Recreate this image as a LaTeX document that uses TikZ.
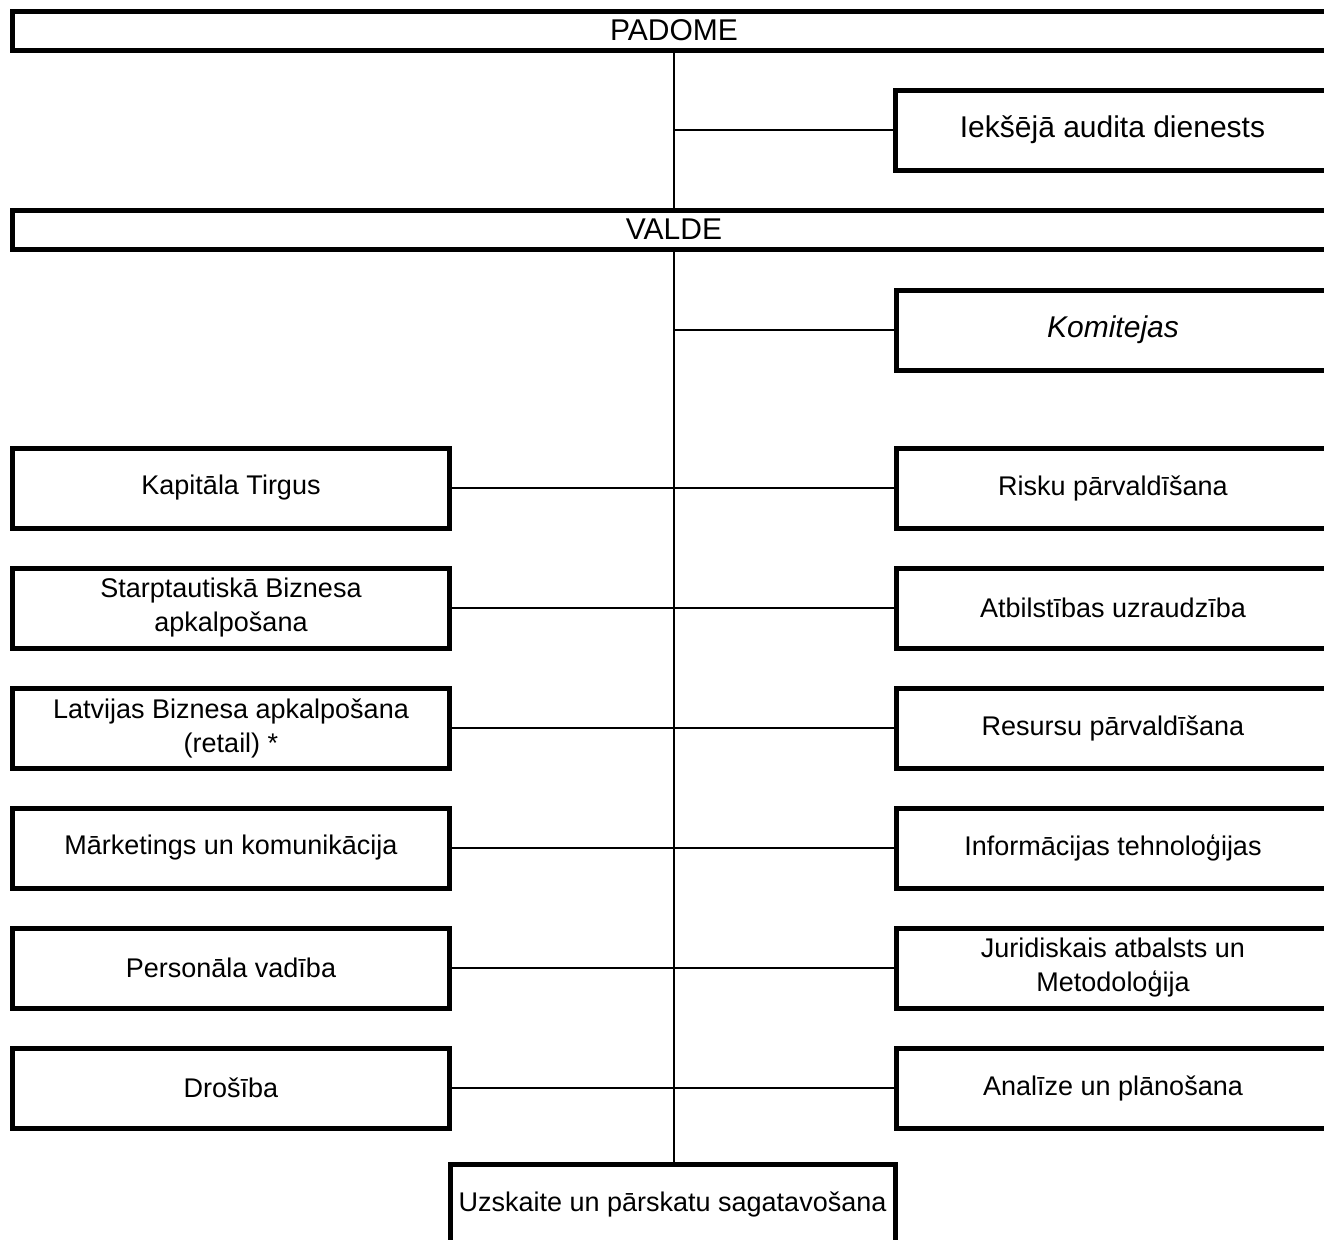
\documentclass[tikz,border=0pt]{standalone}
\usepackage{fontspec}
\setmainfont{Liberation Sans}
\usepackage{tikz}
\usetikzlibrary{positioning}

\tikzset{
  unit/.style={draw, line width=2.5pt, inner sep=0pt, align=center,
    minimum height=40pt, font=\fontsize{13.5}{17}\selectfont},
  board/.style={unit, minimum width=662pt, minimum height=19.5pt,
    font=\fontsize{15}{18}\selectfont},
  sidebox/.style={unit, minimum width=217pt},
  leftbox/.style={unit, minimum width=218.5pt},
  link/.style={line width=1.25pt}
}

\begin{document}
\begin{tikzpicture}[x=0.5pt, y=-0.5pt, node distance=60pt]
        \useasboundingbox (0,0) rectangle (1324,1239);

        \node[board] (padome) at (674,30.5) {PADOME};
        \node[sidebox, font=\fontsize{15}{18}\selectfont] (audits) at (1112.5,130) {Iekšējā audita dienests};
        \node[board] (valde) at (674,229.5) {VALDE};
        \node[sidebox, font=\fontsize{15}{18}\selectfont\itshape] (komitejas) at (1113,330) {Komitejas};

        % left column
        \node[leftbox] (kapitals) at (231,488) {Kapitāla Tirgus};
        \node[leftbox] (starptaut) [below of = kapitals] {Starptautiskā Biznesa\\apkalpošana};
        \node[leftbox] (latvijas) [below of = starptaut] {Latvijas Biznesa apkalpošana\\(retail) *};
        \node[leftbox] (marketings) [below of = latvijas] {Mārketings un komunikācija};
        \node[leftbox] (personals) [below of = marketings] {Personāla vadība};
        \node[leftbox] (drosiba) [below of = personals] {Drošība};

        % right column
        \node[sidebox] (risks) at (1113,488) {Risku pārvaldīšana};
        \node[sidebox] (atbilstiba) [below of = risks] {Atbilstības uzraudzība};
        \node[sidebox] (resursi) [below of = atbilstiba] {Resursu pārvaldīšana};
        \node[sidebox] (it) [below of = resursi] {Informācijas tehnoloģijas};
        \node[sidebox] (juridiskais) [below of = it] {Juridiskais atbalsts un\\Metodoloģija};
        \node[sidebox] (analize) [below of = juridiskais] {Analīze un plānošana};

        \node[unit, minimum width=222.5pt] (uzskaite) at (672.5,1204) {Uzskaite un pārskatu sagatavošana};

        \path[link] (padome) edge (valde);
        \path[link] (padome.south |- audits.west) edge (audits);
        \path[link] (valde.south) edge (valde.south |- uzskaite.north);
        \path[link] (valde.south |- komitejas.west) edge (komitejas);

        \path[link] (kapitals) edge (risks);
        \path[link] (starptaut) edge (atbilstiba);
        \path[link] (latvijas) edge (resursi);
        \path[link] (marketings) edge (it);
        \path[link] (personals) edge (juridiskais);
        \path[link] (drosiba) edge (analize);
      \end{tikzpicture}
\end{document}
